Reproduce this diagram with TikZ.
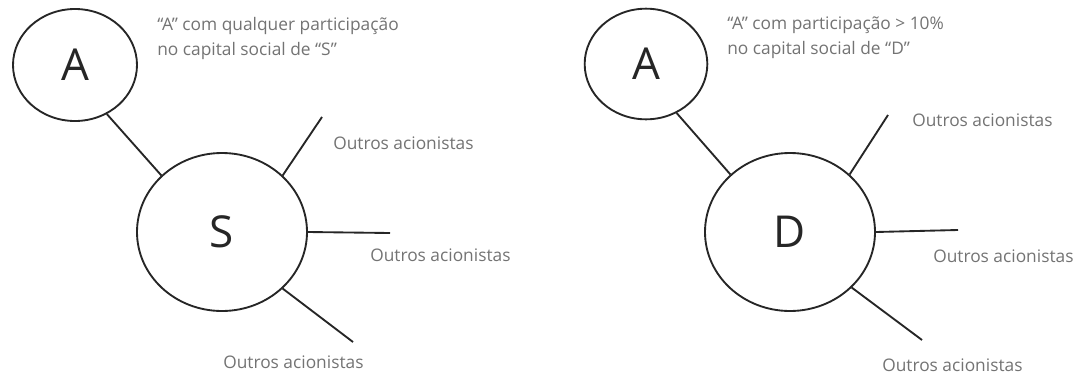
\documentclass[tikz,border=0pt]{standalone}
\usepackage{fontspec}
\setmainfont{Open Sans}
\usetikzlibrary{
  shapes.geometric
}
\tikzset{
  bubble/.style={
    draw=black!85,
    ellipse,
    line width=1.4pt,
    inner sep=0pt,
    text=black!85,
    font=\fontsize{33}{36}\selectfont,
  },
  leg/.style={
    line width=1.4pt,
    draw=black!85,
  },
  lbl/.style={
    anchor=west,
    inner sep=0pt,
    text=black!55,
    font=\fontsize{13}{18.75}\selectfont,
  },
  note/.style={
    lbl,
    align=left,
  },
}

\begin{document}
\begin{tikzpicture}[
  x=0.75pt, y=-0.75pt,
]
  \useasboundingbox (0,0) rectangle (1084,375);

  % Left — any holding in S
  \node[bubble, minimum width=93pt, minimum height=84pt] (aS) at (75,65) {A};
  \node[bubble, minimum width=127.5pt, minimum height=118.5pt] (S) at (222,232) {S};
  \node[note] (sNote) at (157,38)
    {“A” com qualquer participação\\no capital social de “S”};

  \coordinate (s1) at (322,117);
  \coordinate (s2) at (390,233);
  \coordinate (s3) at (353,342);

  \draw[leg] (aS.-57) -- (S.137);
  \draw[leg] (S.43) -- (s1);
  \draw[leg] (S.0) -- (s2);
  \draw[leg] (S.-43) -- (s3);

  \node[lbl] (s1lbl) at (333,143) {Outros acionistas};
  \node[lbl] (s2lbl) at (370,255) {Outros acionistas};
  \node[lbl] (s3lbl) at (223,362) {Outros acionistas};

  % Right — holding above 10% in D
  \node[bubble, minimum width=92pt, minimum height=83pt] (aD) at (646,64) {A};
  \node[bubble, minimum width=127.5pt, minimum height=118.5pt] (D) at (790,232) {D};
  \node[note] (dNote) at (727,38)
    {“A” com participação > 10\%\\no capital social de “D”};

  \coordinate (d1) at (888,115);
  \coordinate (d2) at (958,230);
  \coordinate (d3) at (922,340);

  \draw[leg] (aD.-58) -- (D.136);
  \draw[leg] (D.44) -- (d1);
  \draw[leg] (D.0) -- (d2);
  \draw[leg] (D.-42) -- (d3);

  \node[lbl] (d1lbl) at (912,120) {Outros acionistas};
  \node[lbl] (d2lbl) at (933,256) {Outros acionistas};
  \node[lbl] (d3lbl) at (882,365) {Outros acionistas};
\end{tikzpicture}
\end{document}
